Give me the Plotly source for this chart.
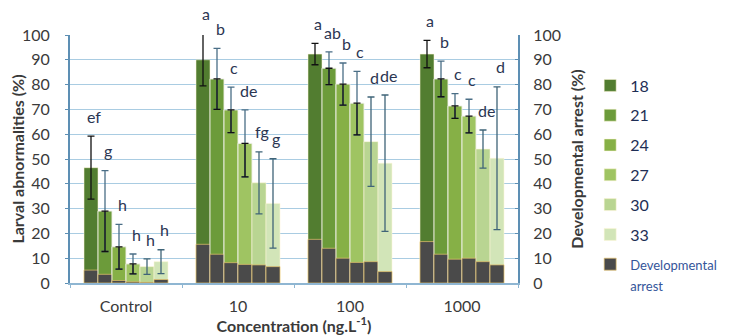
import plotly.graph_objects as go

categories = ["Control", "10", "100", "1000"]
series_names = ["18", "21", "24", "27", "30", "33"]

larval_18 = [46.5, 90.0, 92.3, 92.3]
larval_21 = [29.0, 82.3, 86.6, 82.3]
larval_24 = [14.6, 69.8, 80.2, 71.4]
larval_27 = [7.7, 56.3, 72.5, 67.3]
larval_30 = [6.6, 40.4, 57.0, 54.0]
larval_33 = [8.6, 32.1, 48.3, 50.3]

err_18 = [12.7, 10.5, 4.3, 5.5]
err_21 = [16.3, 12.3, 6.6, 7.2]
err_24 = [9.0, 9.2, 8.5, 5.0]
err_27 = [4.0, 13.5, 12.8, 6.8]
err_30 = [3.1, 12.5, 18.0, 7.7]
err_33 = [4.8, 18.0, 27.5, 28.8]

arrest_18 = [5.2, 15.6, 17.6, 16.7]
arrest_21 = [3.5, 11.6, 14.0, 11.6]
arrest_24 = [1.0, 8.2, 10.0, 9.6]
arrest_27 = [0.5, 7.5, 8.3, 10.0]
arrest_30 = [0.3, 7.3, 8.6, 8.6]
arrest_33 = [1.4, 6.6, 4.6, 7.3]

letters_18 = ["ef", "a", "a", "a"]
letters_21 = ["g", "b", "ab", "b"]
letters_24 = ["h", "c", "b", "c"]
letters_27 = ["h", "de", "c", "c"]
letters_30 = ["h", "fg", "d", "de"]
letters_33 = ["h", "g", "de", "d"]

larval = [larval_18, larval_21, larval_24, larval_27, larval_30, larval_33]
errs = [err_18, err_21, err_24, err_27, err_30, err_33]
arrest = [arrest_18, arrest_21, arrest_24, arrest_27, arrest_30, arrest_33]
letters = [letters_18, letters_21, letters_24, letters_27, letters_30, letters_33]

colors = ["#527d30", "#6c9b3a", "#86b046", "#9fc462", "#b9d592", "#d2e5b8"]
plus_colors = ["#111111", "#4a6e86", "#4a6e86", "#4a6e86", "#3f6478", "#3f6478"]
minus_black = [False, True, True, True, False, False]
arrest_color = "#4a4a4a"
txt = "#3a3a3a"
font_family = "Lato, 'Open Sans', sans-serif"
Y_MAX = 100

fig = go.Figure()
for i, name in enumerate(series_names):
    og = "g" + name
    fig.add_trace(go.Bar(
        x=categories, y=larval[i], name=name, offsetgroup=og,
        legendgroup=og, legendrank=i + 1,
        marker=dict(color=colors[i], line=dict(color="rgba(255,245,215,0.9)", width=0.6)),
        error_y=dict(type="data", array=errs[i], visible=True, color=plus_colors[i],
                     thickness=1.3, width=3.5),
        cliponaxis=False,
    ))
    if minus_black[i]:
        fig.add_trace(go.Bar(
            x=categories, y=larval[i], offsetgroup=og, showlegend=False,
            marker=dict(color="rgba(0,0,0,0)"), hoverinfo="skip",
            error_y=dict(type="data", symmetric=False, array=[0] * len(categories),
                         arrayminus=errs[i], visible=True, color="#111111",
                         thickness=1.3, width=3.5),
            cliponaxis=False,
        ))
    fig.add_trace(go.Bar(
        x=categories, y=arrest[i],
        name="<span style='font-size:13px;color:#34559a'>Developmental<br>arrest</span>",
        offsetgroup=og, legendgroup="arrest", legendrank=10, showlegend=(i == 0),
        marker=dict(color=arrest_color, line=dict(color="#e6c46e", width=0.7)),
    ))

# invisible trace to activate right axis
fig.add_trace(go.Scatter(x=[categories[0]], y=[0], yaxis="y2", mode="markers",
                         marker=dict(opacity=0), showlegend=False, hoverinfo="skip"))

bar_w = 14
for i in range(len(series_names)):
    for j, cat in enumerate(categories):
        fig.add_annotation(
            x=j, xref="x", yref="paper",
            y=(larval[i][j] + errs[i][j] + 8.0) / Y_MAX, text=letters[i][j],
            showarrow=False, xshift=(i - 2.5) * bar_w + 3, yanchor="middle",
            font=dict(size=16, color="#2b3652", family=font_family),
        )

axis_line = "#5d8fb4"
# the page body adds an 8px margin, so the figure is 8px smaller on each side
fig.update_layout(
    width=725, height=327,
    margin=dict(l=62, r=215, t=27, b=52, autoexpand=False),
    paper_bgcolor="white", plot_bgcolor="white",
    barmode="group", bargap=0.25, bargroupgap=0,
    font=dict(family=font_family, color=txt, size=14),
    showlegend=True,
    legend=dict(xref="container", yref="container", x=0.803, y=0.815,
                xanchor="left", yanchor="top", maxheight=320,
                traceorder="grouped", tracegroupgap=6, valign="top",
                font=dict(size=16, color="#1e2e55"), itemwidth=30),
    xaxis=dict(
        type="category", categoryorder="array", categoryarray=categories,
        range=[-0.5, len(categories) - 0.5], autorange=False,
        showline=True, linecolor="#8fb6d2", linewidth=1.5,
        ticks="outside", tickson="boundaries", ticklen=3, tickcolor="#8fb6d2",
        tickfont=dict(size=16, color=txt), tickangle=0, ticklabelstandoff=8,
        title=dict(text="<b>Concentration (ng.L<sup>-1</sup>)</b>", font=dict(size=16, color=txt), standoff=2),
    ),
    yaxis=dict(
        range=[0, Y_MAX], dtick=10, showgrid=True, gridcolor="#a9cce2", gridwidth=1.2,
        showline=True, linecolor=axis_line, linewidth=2,
        ticks="outside", ticklen=3, tickcolor=axis_line,
        tickfont=dict(size=16, color=txt), zeroline=False, ticklabelstandoff=12,
        title=dict(text="<b>Larval abnormalities (%)</b>", font=dict(size=16, color=txt), standoff=3),
    ),
    yaxis2=dict(
        range=[0, Y_MAX], dtick=10, overlaying="y", side="right", showgrid=False,
        showline=True, linecolor=axis_line, linewidth=2,
        ticks="inside", ticklen=3, tickcolor=axis_line,
        tickfont=dict(size=16, color=txt), zeroline=False, ticklabelstandoff=10,
        title=dict(text="<b>Developmental arrest (%)</b>", font=dict(size=16, color=txt), standoff=12),
    ),
)

fig.write_html("out.html")
